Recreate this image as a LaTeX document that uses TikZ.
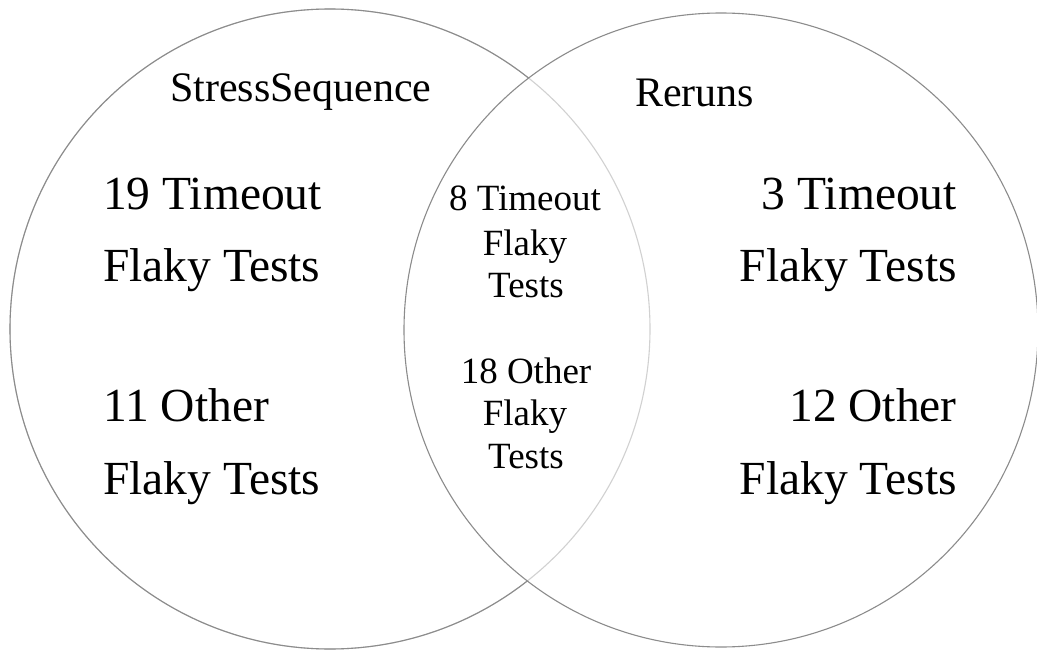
\documentclass[tikz,border=0pt]{standalone}
\usepackage{fontspec}
\setmainfont{Liberation Serif}
\begin{document}
\begin{tikzpicture}[x=1pt,y=-1pt,
  ring/.style={draw=black!45,line width=1.1pt},
  faint/.style={draw=black!18,line width=1.1pt},
  big/.style={inner sep=0pt,font=\fontsize{47.5}{47.5}\selectfont},
  mid/.style={inner sep=0pt,font=\fontsize{37}{37}\selectfont},
  title/.style={inner sep=0pt,font=\fontsize{42}{42}\selectfont}]
\useasboundingbox[fill=white] (0,0) rectangle (1037,650);
\coordinate (cl) at (330,329);
\coordinate (cr) at (721,330);
% left circle: faint inside the right circle
\draw[faint] (cl) circle[radius=320pt];
\begin{scope}[even odd rule]
  \clip (-50,-50) rectangle (1100,700) (cr) circle[radius=317pt];
  \draw[ring] (cl) circle[radius=320pt];
\end{scope}
\draw[ring] (cr) circle[radius=317pt];
% titles
\node[title,anchor=base west] (ts) at (170,102) {StressSequence};
\node[title,anchor=base west] (tr) at (635,107) {Reruns};
% left
\node[big,anchor=base west] (l1) at (103,210) {19 Timeout};
\node[big,anchor=base west] (l2) at (103,281) {Flaky Tests};
\node[big,anchor=base west] (l3) at (103,421) {11 Other};
\node[big,anchor=base west] (l4) at (103,494) {Flaky Tests};
% right
\node[big,anchor=base east] (r1) at (957,210) {3 Timeout};
\node[big,anchor=base east] (r2) at (957,281) {Flaky Tests};
\node[big,anchor=base east] (r3) at (957,421) {12 Other};
\node[big,anchor=base east] (r4) at (957,494) {Flaky Tests};
% middle
\node[mid,anchor=base] (m1) at (525,211) {8 Timeout};
\node[mid,anchor=base] (m2) at (525,255) {Flaky};
\node[mid,anchor=base] (m3) at (526,297) {Tests};
\node[mid,anchor=base] (m4) at (526,383) {18 Other};
\node[mid,anchor=base] (m5) at (525,425) {Flaky};
\node[mid,anchor=base] (m6) at (526,468) {Tests};
\end{tikzpicture}
\end{document}
